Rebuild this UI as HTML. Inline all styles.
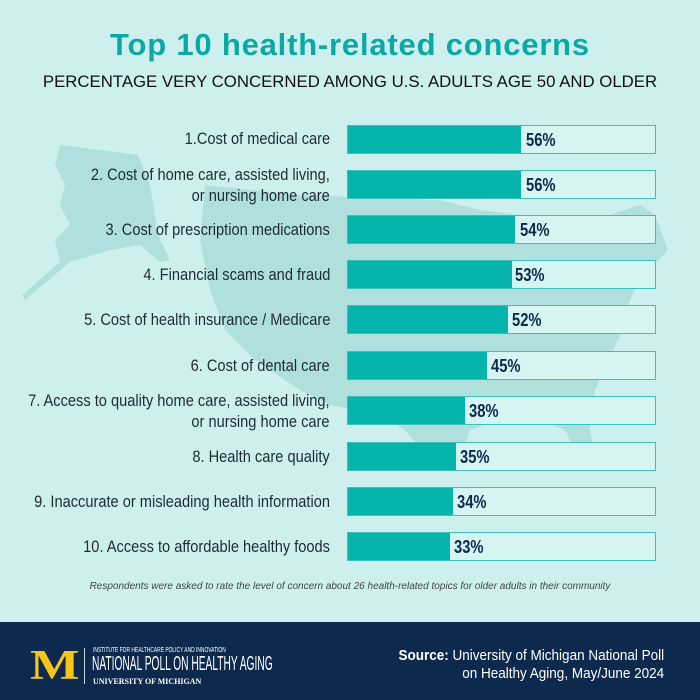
<!DOCTYPE html>
<html><head><meta charset="utf-8"><style>
body{margin:0;width:700px;height:700px;overflow:hidden;background:#cdf0ef;font-family:"Liberation Sans",sans-serif;position:relative}
.t{position:absolute;left:0;width:700px;text-align:center;white-space:nowrap}
.lab{position:absolute;right:370px;text-align:right;font-size:17px;color:#1e2a36;line-height:21px;transform:scaleX(0.86);transform-origin:right;white-space:nowrap}
.bar{position:absolute;left:347px;width:307px;height:27px;border:1px solid #3cc0bb;background:#d6f4f2}
.f{position:absolute;left:0;top:0;bottom:0;background:#05b4ab}
.v{position:absolute;top:4px;font-weight:bold;font-size:18px;color:#0d2a4e;transform:scaleX(0.82);transform-origin:left}
</style></head><body>
<svg style="position:absolute;left:0;top:0" width="700" height="700">
<path fill="#afe0de" d="M60,145 L100,150 L138,155 L150,185 L158,235 L170,260 L160,262 L140,245 L110,250 L70,262 L25,300 L22,295 L60,262 L55,240 L70,225 L60,205 L65,185 L55,165 Z"/>
<path fill="#afe0de" d="M205,185 L300,195 L440,200 L480,210 L520,215 L560,220 L600,218 L640,205 L655,215 L668,250 L640,280 L630,300 L620,335 L595,390 L590,430 L598,470 L585,470 L565,430 L540,420 L500,420 L470,430 L455,470 L430,460 L405,430 L380,415 L330,405 L300,390 L255,360 L225,330 L210,290 L200,240 Z"/>
</svg>
<div class="t" style="top:27px;font-size:31px;font-weight:bold;color:#0aa9a5;letter-spacing:0.8px">Top 10 health-related concerns</div>
<div class="t" style="top:72px;font-size:16.8px;color:#111">PERCENTAGE VERY CONCERNED AMONG U.S. ADULTS AGE 50 AND OLDER</div>

<div class="lab" style="top:128px">1.Cost of medical care</div>
<div class="bar" style="top:125px"><div class="f" style="width:173px"></div><div class="v" style="left:178px">56%</div></div>
<div class="lab" style="top:164px">2. Cost of home care, assisted living,<br>or nursing home care</div>
<div class="bar" style="top:170px"><div class="f" style="width:173px"></div><div class="v" style="left:178px">56%</div></div>
<div class="lab" style="top:219px">3. Cost of prescription medications</div>
<div class="bar" style="top:215px"><div class="f" style="width:167px"></div><div class="v" style="left:172px">54%</div></div>
<div class="lab" style="top:264px">4. Financial scams and fraud</div>
<div class="bar" style="top:260px"><div class="f" style="width:164px"></div><div class="v" style="left:167px">53%</div></div>
<div class="lab" style="top:309px">5. Cost of health insurance / Medicare</div>
<div class="bar" style="top:305px"><div class="f" style="width:160px"></div><div class="v" style="left:164px">52%</div></div>
<div class="lab" style="top:355px">6. Cost of dental care</div>
<div class="bar" style="top:351px"><div class="f" style="width:139px"></div><div class="v" style="left:143px">45%</div></div>
<div class="lab" style="top:390px">7. Access to quality home care, assisted living,<br>or nursing home care</div>
<div class="bar" style="top:396px"><div class="f" style="width:117px"></div><div class="v" style="left:121px">38%</div></div>
<div class="lab" style="top:446px">8. Health care quality</div>
<div class="bar" style="top:442px"><div class="f" style="width:108px"></div><div class="v" style="left:112px">35%</div></div>
<div class="lab" style="top:491px">9. Inaccurate or misleading health information</div>
<div class="bar" style="top:487px"><div class="f" style="width:105px"></div><div class="v" style="left:109px">34%</div></div>
<div class="lab" style="top:536px">10. Access to affordable healthy foods</div>
<div class="bar" style="top:532px"><div class="f" style="width:102px"></div><div class="v" style="left:106px">33%</div></div>

<div class="t" style="top:581px;font-size:10px;font-style:italic;color:#444">Respondents were asked to rate the level of concern about 26 health-related topics for older adults in their community</div>

<div style="position:absolute;left:0;top:622px;width:700px;height:78px;background:#0d2a4e"></div>
<div style="position:absolute;left:30px;top:648px;font-family:'Liberation Serif',serif;font-weight:bold;font-size:42px;line-height:36px;color:#f5c518;transform:scaleX(1.25);transform-origin:left">M</div>
<div style="position:absolute;left:84px;top:648px;width:1px;height:36px;background:#c9d3e0"></div>
<div style="position:absolute;left:93px;top:647px;font-size:7px;color:#fff;transform:scaleX(0.7);transform-origin:left;white-space:nowrap">INSTITUTE FOR HEALTHCARE POLICY AND INNOVATION</div>
<div style="position:absolute;left:92px;top:653px;font-size:20px;color:#fff;transform:scaleX(0.51);transform-origin:left;white-space:nowrap">NATIONAL POLL ON HEALTHY AGING</div>
<div style="position:absolute;left:93px;top:677px;font-family:'Liberation Serif',serif;font-weight:bold;font-size:8px;color:#fff;white-space:nowrap">UNIVERSITY OF MICHIGAN</div>
<div style="position:absolute;right:36px;top:647px;text-align:right;font-size:15px;line-height:18px;color:#fff;transform:scaleX(0.9);transform-origin:right;white-space:nowrap"><b>Source:</b> University of Michigan National Poll<br>on Healthy Aging, May/June 2024</div>
</body></html>
